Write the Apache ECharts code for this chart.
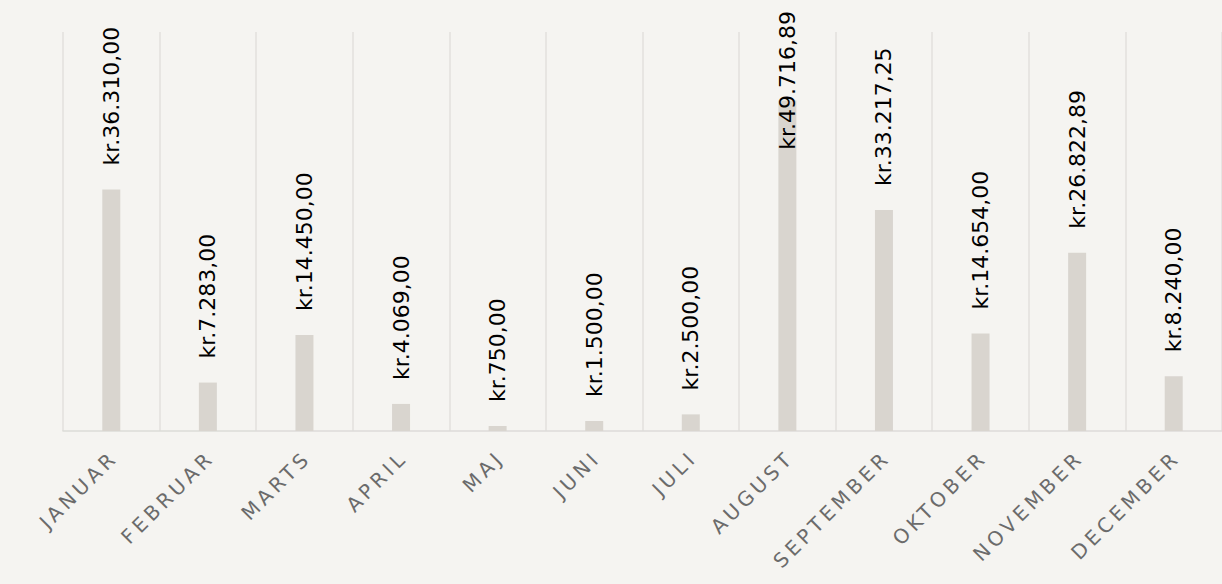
<!DOCTYPE html>
<html>
<head>
<meta charset="utf-8">
<script src="https://cdn.jsdelivr.net/npm/echarts@6/dist/echarts.min.js"></script>
<style>
  html, body { margin: 0; padding: 0; background: #f5f4f1; }
  #chart { width: 1222px; height: 584px; }
  #chart svg text[fill="#6b6b6b"], #chart svg text[fill="rgb(107,107,107)"] { letter-spacing: 4px; }
</style>
</head>
<body>
<div id="chart"></div>
<script>
const months = ['JANUAR', 'FEBRUAR', 'MARTS', 'APRIL', 'MAJ', 'JUNI', 'JULI', 'AUGUST', 'SEPTEMBER', 'OKTOBER', 'NOVEMBER', 'DECEMBER'];
const amounts = [36310.00, 7283.00, 14450.00, 4069.00, 750.00, 1500.00, 2500.00, 49716.89, 33217.25, 14654.00, 26822.89, 8240.00];
const yMax = 60000;

const LABEL_FONT = 'DejaVu Sans';
const LABEL_SIZE = 22;
const LABEL_DIST = 24;
const TOP_MARGIN = 11;

function formatKr(v) {
  const parts = v.toFixed(2).split('.');
  const intPart = parts[0].replace(/\B(?=(\d{3})+(?!\d))/g, '.');
  return 'kr.' + intPart + ',' + parts[1];
}

const measureCtx = document.createElement('canvas').getContext('2d');
measureCtx.font = LABEL_SIZE + 'px "' + LABEL_FONT + '"';

const chart = echarts.init(document.getElementById('chart'), null, { renderer: 'svg' });

function buildOption(data) {
  return {
    backgroundColor: '#f5f4f1',
    animation: false,
    grid: { left: 63, right: -9, top: 32, bottom: 153 },
    xAxis: {
      type: 'category',
      data: months,
      boundaryGap: true,
      axisTick: { show: false },
      axisLine: { lineStyle: { color: '#dcdbd8', width: 1.5 } },
      splitLine: { show: true, lineStyle: { color: '#e2e0dd', width: 1.5 } },
      axisLabel: {
        rotate: 45,
        interval: 0,
        margin: 26,
        padding: [0, -4, 0, 0],
        color: '#6b6b6b',
        fontFamily: 'DejaVu Sans',
        fontSize: 20
      }
    },
    yAxis: {
      type: 'value',
      min: 0,
      max: yMax,
      show: false,
      splitLine: { show: false }
    },
    series: [{
      type: 'bar',
      data: data,
      barWidth: 18,
      itemStyle: { color: '#d9d5cf' },
      label: {
        show: true,
        position: 'top',
        rotate: 90,
        align: 'left',
        verticalAlign: 'middle',
        distance: LABEL_DIST,
        color: '#000000',
        fontFamily: LABEL_FONT,
        fontSize: LABEL_SIZE,
        formatter: p => formatKr(p.value)
      }
    }]
  };
}

chart.setOption(buildOption(amounts));

// Keep labels that would run off the top edge inside the picture
const adjusted = amounts.map((v, i) => {
  const topPx = chart.convertToPixel({ seriesIndex: 0 }, [i, v])[1];
  const textLen = measureCtx.measureText(formatKr(v)).width;
  const anchor = topPx - LABEL_DIST;
  if (anchor - textLen < TOP_MARGIN) {
    return {
      value: v,
      label: { position: [9, TOP_MARGIN + textLen - topPx] }
    };
  }
  return v;
});
chart.setOption(buildOption(adjusted));
</script>
</body>
</html>
